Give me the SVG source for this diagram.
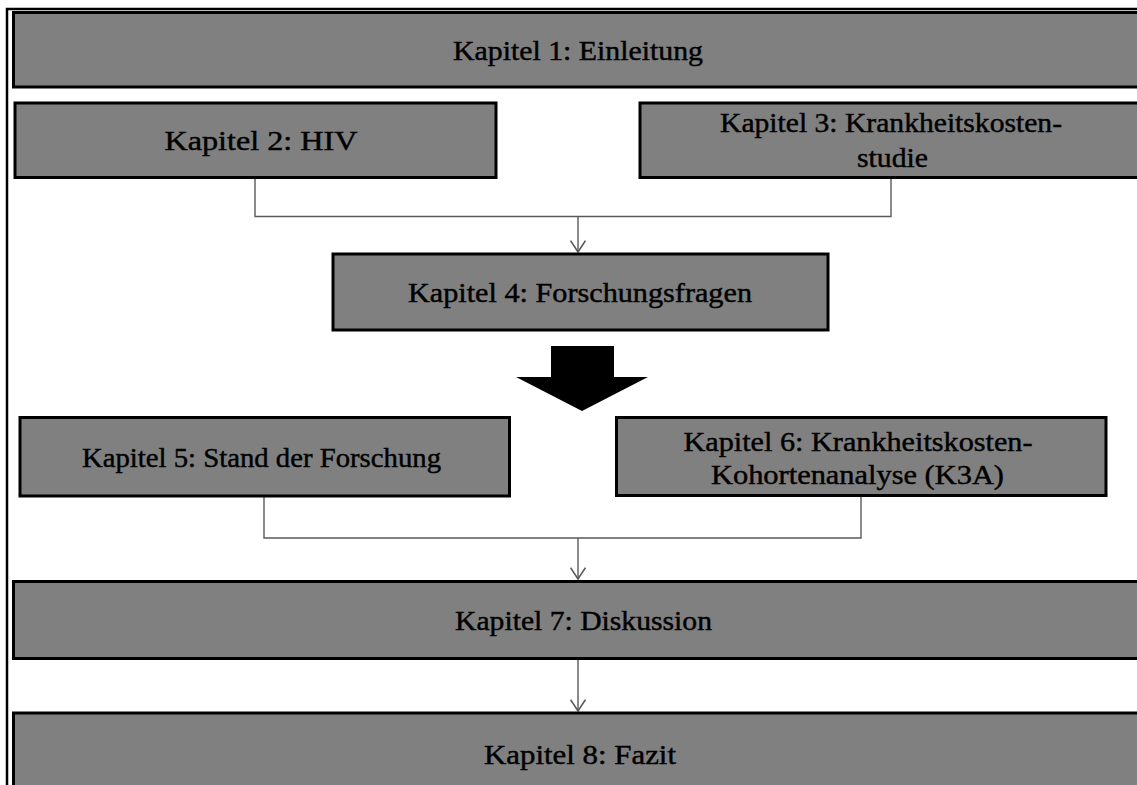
<svg xmlns="http://www.w3.org/2000/svg" width="1137" height="785" viewBox="0 0 1137 785">
<defs>
<style>
.box{fill:#808080;stroke:#000;stroke-width:3}
.t{font-family:"Liberation Serif","Times New Roman",serif;font-size:28px;fill:#000;stroke:#000;stroke-width:0.45;text-anchor:middle}
.c{fill:none;stroke:#5a5a5a;stroke-width:1.4}
.frame{stroke:#000;stroke-width:2.5;fill:none}
</style>
<marker id="ah" markerWidth="14" markerHeight="16" refX="11" refY="7" orient="auto" markerUnits="userSpaceOnUse" viewBox="0 0 12 14">
<path d="M1,0.5 L11,7 L1,13.5" fill="none" stroke="#5a5a5a" stroke-width="1.4"/>
</marker>
</defs>
<rect width="1137" height="785" fill="#fff"/>
<g id="frame">
<path class="frame" d="M7,785 V9 H1137"/>
</g>
<g id="connectors">
<path class="c" d="M255,179 V216.5 H891 V179"/>
<path class="c" d="M578,216.5 V252" marker-end="url(#ah)"/>
<path class="c" d="M264,497 V538 H861 V497"/>
<path class="c" d="M578,538 V579" marker-end="url(#ah)"/>
<path class="c" d="M578,660 V711" marker-end="url(#ah)"/>
</g>
<g id="n1">
<rect class="box" x="13.5" y="12.5" width="1130" height="74.5"/>
<text class="t" x="578" y="60" textLength="250" lengthAdjust="spacingAndGlyphs">Kapitel 1: Einleitung</text>
</g>
<g id="n2">
<rect class="box" x="15" y="103" width="481" height="74.5"/>
<text class="t" x="261" y="150" textLength="193" lengthAdjust="spacingAndGlyphs">Kapitel 2: HIV</text>
</g>
<g id="n3">
<rect class="box" x="640" y="103" width="510" height="74.5"/>
<text class="t" x="891" y="131.5" textLength="342" lengthAdjust="spacingAndGlyphs">Kapitel 3: Krankheitskosten-</text>
<text class="t" x="892.5" y="166.5" textLength="71" lengthAdjust="spacingAndGlyphs">studie</text>
</g>
<g id="n4">
<rect class="box" x="333" y="254" width="495" height="76"/>
<text class="t" x="580" y="302" textLength="344" lengthAdjust="spacingAndGlyphs">Kapitel 4: Forschungsfragen</text>
</g>
<g id="bigarrow">
<polygon points="551,346 614,346 614,377 648,377 582,411 516,377 551,377" fill="#000"/>
</g>
<g id="n5">
<rect class="box" x="20" y="417.5" width="489.5" height="78.5"/>
<text class="t" x="261.5" y="467" textLength="359" lengthAdjust="spacingAndGlyphs">Kapitel 5: Stand der Forschung</text>
</g>
<g id="n6">
<rect class="box" x="616.5" y="417.5" width="489.5" height="78"/>
<text class="t" x="858" y="451" textLength="349" lengthAdjust="spacingAndGlyphs">Kapitel 6: Krankheitskosten-</text>
<text class="t" x="857.5" y="484" textLength="293" lengthAdjust="spacingAndGlyphs">Kohortenanalyse (K3A)</text>
</g>
<g id="n7">
<rect class="box" x="13.5" y="581.5" width="1130" height="77"/>
<text class="t" x="583.5" y="630" textLength="257" lengthAdjust="spacingAndGlyphs">Kapitel 7: Diskussion</text>
</g>
<g id="n8">
<rect class="box" x="13.5" y="713" width="1130" height="80"/>
<text class="t" x="580" y="764" textLength="192" lengthAdjust="spacingAndGlyphs">Kapitel 8: Fazit</text>
</g>
</svg>
